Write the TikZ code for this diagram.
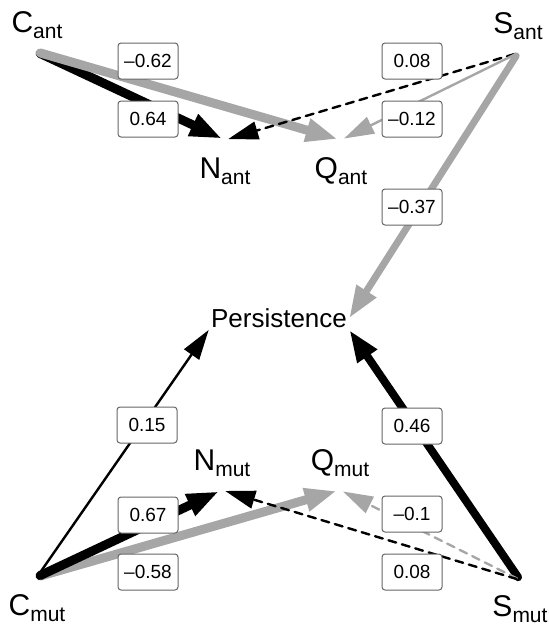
\documentclass[tikz,border=0pt]{standalone}
\usepackage{fontspec}
\setmainfont{Liberation Sans}
\usetikzlibrary{positioning,arrows.meta}

\definecolor{posc}{RGB}{0,0,0}
\definecolor{negc}{RGB}{166,166,166}

% vertex name with lowered subscript
\newcommand{\vname}[2]{\fontsize{15}{17}\selectfont #1\raisebox{-3pt}{\fontsize{10.5}{12}\selectfont #2}}

\begin{document}
\begin{tikzpicture}[
  x=0.5pt, y=-0.5pt,
  vert/.style={circle, inner sep=0pt, minimum size=3pt},
  vlab/.style={inner sep=0pt},
  wlab/.style={draw=black!60, line width=0.5pt, fill=white, rounded corners=1.5pt,
               minimum width=30pt, minimum height=18pt, inner sep=1pt,
               font=\fontsize{9.5}{11}\selectfont},
  strong/.style={line cap=round, -{Triangle[length=16pt,width=11pt]}},
  weak/.style={line width=1.2pt, line cap=round, -{Triangle[length=15pt,width=9pt]}},
  nonsig/.style={dashed, dash pattern=on 4pt off 3pt}
]
\useasboundingbox (0,0) rectangle (549,628);

% vertices
\node[vert] (Cant) at (37,52) {};
\node[vert] (Sant) at (518,53) {};
\node[vert] (Nant) at (225,140) {};
\node[vert] (Qant) at (341,140) {};
\node[inner sep=1pt, font=\fontsize{13}{15}\selectfont] (Pers) at (279,318) {Persistence};
\node[vert] (Cmut) at (37,577) {};
\node[vert] (Smut) at (520,580) {};
\node[vert] (Nmut) at (222,490) {};
\node[vert] (Qmut) at (340,490) {};

\node[vlab, above=5pt of Cant] (CantL) {\vname{C}{ant}};
\node[vlab, above=5pt of Sant] (SantL) {\vname{S}{ant}};
\node[vlab, below=7pt of Nant] (NantL) {\vname{N}{ant}};
\node[vlab, below=7pt of Qant] (QantL) {\vname{Q}{ant}};
\node[vlab, above=5pt of Nmut] (NmutL) {\vname{N}{mut}};
\node[vlab, above=5pt of Qmut] (QmutL) {\vname{Q}{mut}};
\node[vlab, below=7pt of Cmut] (CmutL) {\vname{C}{mut}};
\node[vlab, below=6pt of Smut] (SmutL) {\vname{S}{mut}};

% ant edges
\draw[strong, posc, line width=4.5pt] (Cant) -- (Nant);
\draw[strong, negc, line width=4.5pt] (Cant) -- (Qant);
\draw[weak, posc, nonsig] (Sant) -- (Nant);
\draw[weak, negc] (Sant) -- (Qant);
\draw[strong, negc, line width=3.5pt] (Sant) -- (Pers.east);

% mut edges
\draw[strong, negc, line width=4.5pt] (Cmut) -- (Qmut);
\draw[strong, posc, line width=4.5pt] (Cmut) -- (Nmut);
\draw[weak, posc] (Cmut) -- (Pers.south west);
\draw[strong, posc, line width=4pt] (Smut) -- (Pers.south east);
\draw[weak, negc, nonsig] (Smut) -- (Qmut);
\draw[weak, posc, nonsig] (Smut) -- (Nmut);

% weights
\node[wlab] (wCQa) at (148,61) {--0.62};
\node[wlab] (wCNa) at (148,119) {0.64};
\node[wlab] (wSNa) at (412,61) {0.08};
\node[wlab] (wSQa) at (412,119) {--0.12};
\node[wlab] (wSPa) at (412,207) {--0.37};
\node[wlab] (wCPm) at (147,425) {0.15};
\node[wlab] (wSPm) at (412,426) {0.46};
\node[wlab] (wCNm) at (148,515) {0.67};
\node[wlab] (wCQm) at (148,572) {--0.58};
\node[wlab] (wSQm) at (412,514) {--0.1};
\node[wlab] (wSNm) at (412,572) {0.08};
\end{tikzpicture}
\end{document}
